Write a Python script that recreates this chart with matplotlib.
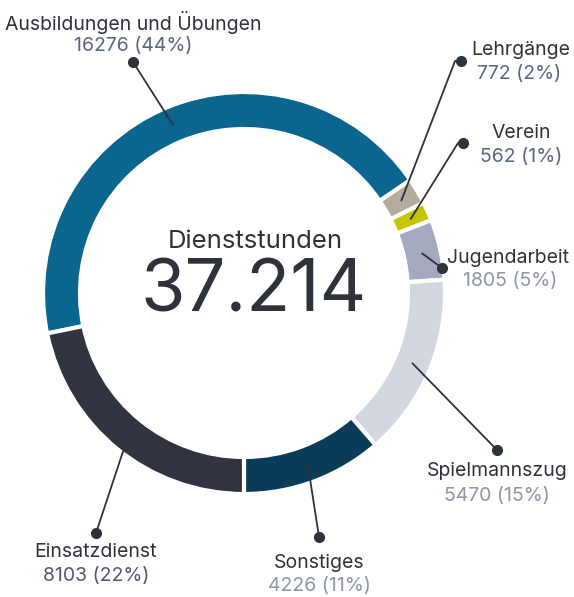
import numpy as np
import matplotlib
matplotlib.use("Agg")
import matplotlib.pyplot as plt

plt.rcParams['font.family'] = ['Inter', 'DejaVu Sans']

categories = ["Ausbildungen und Übungen", "Lehrgänge", "Verein", "Jugendarbeit",
              "Spielmannszug", "Sonstiges", "Einsatzdienst"]
values = [16276, 772, 562, 1805, 5470, 4226, 8103]
pct_labels = ["44%", "2%", "1%", "5%", "15%", "11%", "22%"]
center_title = "Dienststunden"
center_value = "37.214"

colors = ["#0b668f", "#b4ab9f", "#c6c500", "#a3a9be", "#d2d6df", "#0b3c57", "#2f3440"]
value_colors = ["#5b6684", "#5b6684", "#5b6684", "#8e96ab", "#8e96ab", "#8e96ab", "#4f5a78"]
text_dark = "#2e323b"

W, H = 574, 597
fig = plt.figure(figsize=(W / 100, H / 100), dpi=100)
ax = fig.add_axes([0, 0, 1, 1])

def Y(y):
    return H - y

cx, cy = 244, Y(293)
R, ring = 201, 37
total = sum(values)
start = (-90 - values[-1] / total * 360) % 360

wedges, _ = ax.pie(values, colors=colors, startangle=start, counterclock=False,
                   radius=R, center=(cx, cy),
                   wedgeprops=dict(width=ring, edgecolor="white", linewidth=3))

# label layout: (dot x, dot y, name x, name y, value x, value y, elbow)
layout = [
    (133, 62, 133, 22, 133, 46, None),
    (461, 61, 521, 50, 519, 74, 455),
    (463, 143, 521, 133, 521, 157, 458),
    (442, 268, 508, 258, 510, 281, None),
    (497, 450, 497, 471, 497, 496, None),
    (319, 537, 319, 563, 319, 586, None),
    (96, 533, 96, 552, 96, 576, None),
]

rmid = R - ring / 2
for w, cat, v, p, vc, lay in zip(wedges, categories, values, pct_labels, value_colors, layout):
    dx, dy, nx, ny, vx, vy, elbow = lay
    ang = np.deg2rad((w.theta1 + w.theta2) / 2)
    sx, sy = cx + rmid * np.cos(ang), cy + rmid * np.sin(ang)
    if elbow is not None:
        xs, ys = [sx, elbow, dx], [sy, Y(dy), Y(dy)]
    else:
        xs, ys = [sx, dx], [sy, Y(dy)]
    ax.plot(xs, ys, color=text_dark, lw=1.3, solid_capstyle="round", zorder=3)
    ax.plot([dx], [Y(dy)], "o", color=text_dark, ms=7, zorder=4)
    ax.text(nx, Y(ny), cat, ha="center", va="center", fontsize=14, color=text_dark)
    ax.text(vx, Y(vy), f"{v} ({p})", ha="center", va="center", fontsize=14, color=vc)

ax.text(255, Y(241), center_title, ha="center", va="center", fontsize=18.5, color=text_dark)
ax.text(254, Y(292), center_value, ha="center", va="center", fontsize=52, color=text_dark)

ax.set_xlim(0, W)
ax.set_ylim(0, H)
ax.set_aspect("auto")
ax.axis("off")
fig.savefig("out.png", dpi=100)
